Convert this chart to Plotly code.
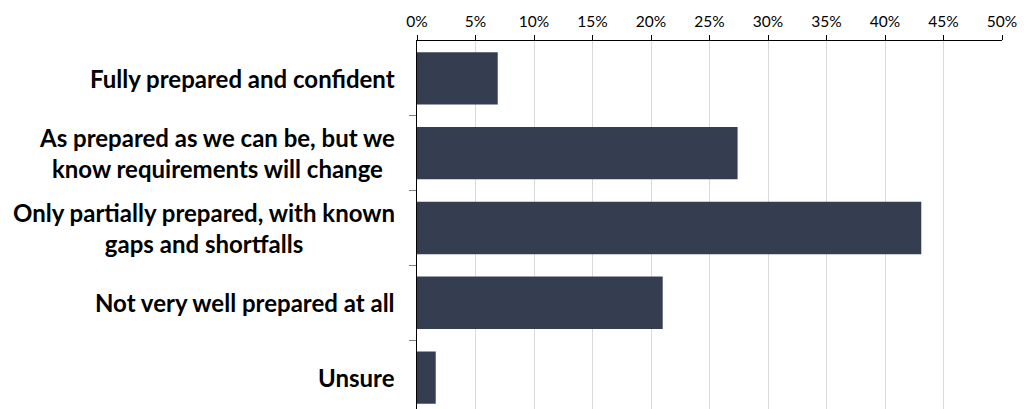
import plotly.graph_objects as go

categories = [
    "Fully prepared and confident",
    "As prepared as we can be, but we<br>know requirements will change",
    "Only partially prepared, with known<br>gaps and shortfalls",
    "Not very well prepared at all",
    "Unsure",
]
values = [6.9, 27.4, 43.1, 21.0, 1.6]
x_tickvals = [0, 5, 10, 15, 20, 25, 30, 35, 40, 45, 50]
x_ticktext = [f"{v}%" for v in x_tickvals]

fig = go.Figure()
fig.add_trace(go.Bar(
    x=values,
    y=list(range(len(categories))),
    orientation="h",
    marker=dict(color="#343E50", line=dict(width=0)),
    hoverinfo="skip",
))

for i, cat in enumerate(categories):
    fig.add_annotation(
        x=0, xref="paper", y=i, yref="y",
        text=cat, showarrow=False,
        xanchor="right", yanchor="middle", align="center",
        xshift=-20,
        font=dict(family="Lato", size=24, color="#000000", weight="bold"),
    )

fig.update_layout(
    width=1035, height=409,
    margin=dict(l=417, r=33, t=41, b=0),
    paper_bgcolor="white", plot_bgcolor="white",
    bargap=0.3,
    showlegend=False,
    xaxis=dict(
        side="top", range=[0, 50],
        tickvals=x_tickvals, ticktext=x_ticktext,
        showgrid=True, gridcolor="#D9D9D9", gridwidth=1,
        showline=True, linecolor="#000000", linewidth=1,
        ticks="outside", ticklen=5, tickcolor="#000000",
        tickfont=dict(family="Lato", size=15.5, color="#000000"),
        ticklabelstandoff=2,
        zeroline=False,
    ),
    yaxis=dict(
        range=[4.42, -0.5],
        tickvals=[0.5, 1.5, 2.5, 3.5], ticks="outside", ticklen=7, tickcolor="#808080",
        showticklabels=False,
        showgrid=False, zeroline=False,
        showline=True, linecolor="#000000", linewidth=1,
    ),
)

fig.write_html("out.html")
